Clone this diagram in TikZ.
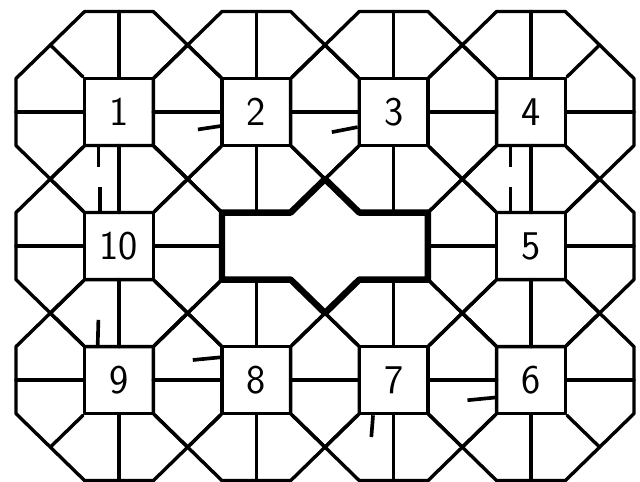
\documentclass[tikz,border=0pt]{standalone}
\usepackage{tikz}
\usetikzlibrary{positioning}
\tikzset{
	wall/.style = {line width=2.4pt, line join=round, line cap=round},
	bold wall/.style = {line width=4.6pt, line join=round},
	door/.style = {line width=2.6pt},
	room/.style = {draw, wall, inner sep=0pt, minimum width=1.716cm, minimum height=1.675cm,
	 font=\sffamily\fontsize{29}{30}\selectfont},
}
\begin{document}
\begin{tikzpicture}[x=0.858cm, y=-0.8375cm]
 \useasboundingbox (-3.466,-3.343) rectangle (15.176,11.015);
 \foreach \i/\j/\n in {0/0/1, 4/0/2, 8/0/3, 12/0/4, 12/4/5, 12/8/6, 8/8/7, 4/8/8, 0/8/9, 0/4/10} {
   \begin{scope}[shift={(\i,\j)}]
     \draw[wall] (-1,-3) -- (1,-3) -- (3,-1) -- (3,1) -- (1,3) -- (-1,3) -- (-3,1) -- (-3,-1) -- cycle;
     \node[room] (r\n) at (0,0) {\n};
     \draw[wall] (r\n.north) -- (0,-3) (r\n.south) -- (0,3) (r\n.west) -- (-3,0) (r\n.east) -- (3,0);
     \draw[wall] (r\n.north east) -- (2,-2) (r\n.north west) -- (-2,-2)
                 (r\n.south east) -- (2,2) (r\n.south west) -- (-2,2);
   \end{scope}
 }
 \draw[bold wall] (3,3) -- (5,3) -- (6,2) -- (7,3) -- (9,3) -- (9,5) -- (7,5) -- (6,6) -- (5,5) -- (3,5) -- cycle;
 \draw[door] (2.3,0.52) -- (r2.west |- 0,0.42);
 \draw[door] (6.2,0.6) -- (r3.west |- 0,0.45);
 \draw[door] (r1.south -| -0.6,0) -- (-0.6,1.65);
 \draw[door] (-0.55,2.25) -- (r10.north -| -0.55,0);
 \draw[door] (r4.south -| 11.4,0) -- (11.4,1.65);
 \draw[door] (11.4,2.25) -- (r5.north -| 11.4,0);
 \draw[door] (-0.6,6.2) -- (r9.north -| -0.62,0);
 \draw[door] (2.15,7.4) -- (r8.west |- 0,7.32);
 \draw[door] (r7.south -| 7.4,0) -- (7.35,9.7);
 \draw[door] (10.15,8.6) -- (r6.west |- 0,8.52);
\end{tikzpicture}
\end{document}
